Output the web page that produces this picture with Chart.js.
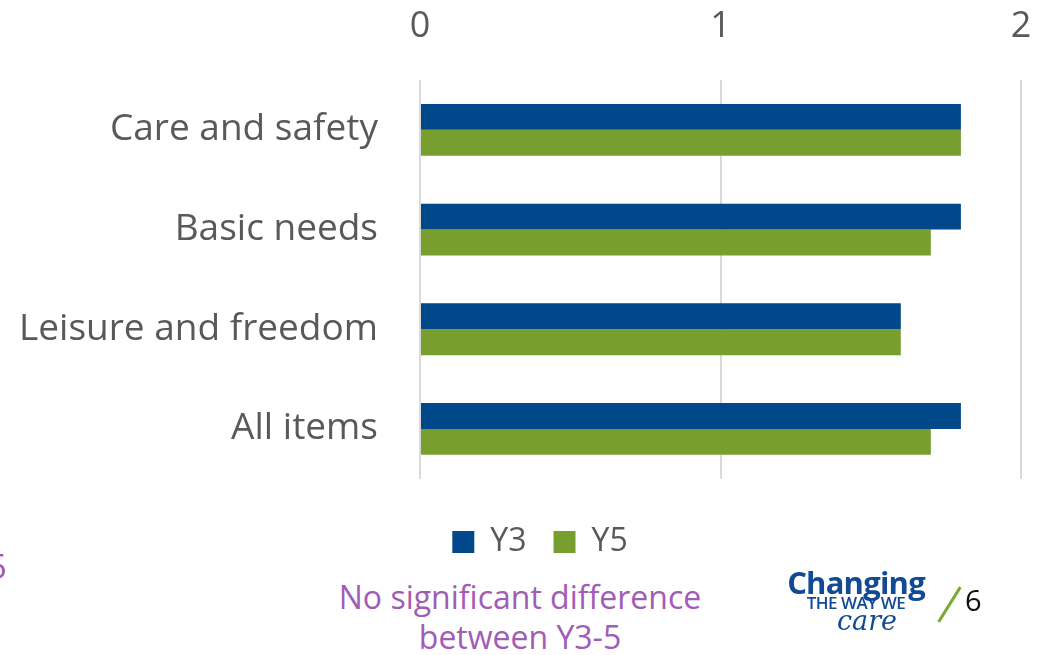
<!DOCTYPE html>
<html>
<head>
<meta charset="utf-8">
<script src="https://cdn.jsdelivr.net/npm/chart.js@4.4.1/dist/chart.umd.min.js"></script>
<style>
  body { margin: 0; background: #fff; width: 1043px; height: 655px; overflow: hidden; position: relative; font-family: "Open Sans", sans-serif; }
  #wrap { position: absolute; left: 0; top: 0; width: 1043px; height: 568px; }
  .note { position: absolute; color: #A05CB6; font-size: 32px; line-height: 40px; }
  #logo { position: absolute; left: 778px; top: 568px; color: #134A94; text-align: center; width: 156px; }
  #logo .big { font-weight: 700; font-size: 31px; line-height: 28px; letter-spacing: -0.8px; }
  #logo .small { font-weight: 600; font-size: 17px; line-height: 14px; letter-spacing: -0.5px; }
  #logo .care { font-family: "DejaVu Serif", serif; font-style: italic; font-size: 27px; line-height: 22px; margin-left: 22px; }
  #slash { position: absolute; left: 948px; top: 584px; width: 3px; height: 41px; background: #7AAA36; transform: rotate(32deg); }
  #page { position: absolute; left: 965px; top: 580px; font-size: 29px; color: #111; }
</style>
</head>
<body>
<div id="wrap"><canvas id="chart"></canvas></div>
<div class="note" style="left:-13px; top:546px; font-size:35px;">5</div>
<div class="note" style="left:300px; top:577px; width:440px; text-align:center;">No significant difference<br>between Y3-5</div>
<div id="logo">
  <div class="big">Changing</div>
  <div class="small">THE WAY WE</div>
  <div class="care">care</div>
</div>
<div id="slash"></div>
<div id="page">6</div>
<script>
const categories = ["Care and safety", "Basic needs", "Leisure and freedom", "All items"];
const y3Values = [1.8, 1.8, 1.6, 1.8];
const y5Values = [1.8, 1.7, 1.6, 1.7];
const tickValues = [0, 1, 2];

const textGray = "#595959";

// legend sits a bit right of the page centre in the original
const shiftLegend = {
  id: "shiftLegend",
  afterLayout(chart) { chart.legend.left += 37; }
};

new Chart(document.getElementById("chart"), {
  type: "bar",
  data: {
    labels: categories,
    datasets: [
      { label: "Y3", data: y3Values, backgroundColor: "#004889", categoryPercentage: 0.52, barPercentage: 1 },
      { label: "Y5", data: y5Values, backgroundColor: "#789F2D", categoryPercentage: 0.52, barPercentage: 1 }
    ]
  },
  options: {
    indexAxis: "y",
    responsive: true,
    maintainAspectRatio: false,
    animation: false,
    layout: { padding: 0 },
    plugins: {
      tooltip: { enabled: false },
      legend: {
        position: "bottom",
        title: { display: true, text: "", font: { size: 1 }, padding: { top: 0, bottom: 19 } },
        labels: {
          boxWidth: 22, boxHeight: 22, padding: 27, color: textGray,
          font: { family: "Open Sans", size: 32 }
        }
      }
    },
    scales: {
      x: {
        position: "top",
        min: 0, max: 2,
        afterBuildTicks: s => { s.ticks = tickValues.map(v => ({ value: v })); },
        afterFit: s => { s.height = 80; s.paddingRight = 22; s.paddingLeft = 0; },
        border: { display: false },
        grid: { color: "#D9D9D9", lineWidth: 2, drawTicks: false },
        ticks: { color: textGray, padding: 32, font: { family: "Open Sans", size: 36 } }
      },
      y: {
        afterFit: s => { s.width = 420; },
        border: { display: false },
        grid: { display: false, drawTicks: false },
        ticks: { color: textGray, padding: 42, font: { family: "Open Sans", size: 37 } }
      }
    }
  },
  plugins: [shiftLegend]
});
</script>
</body>
</html>
